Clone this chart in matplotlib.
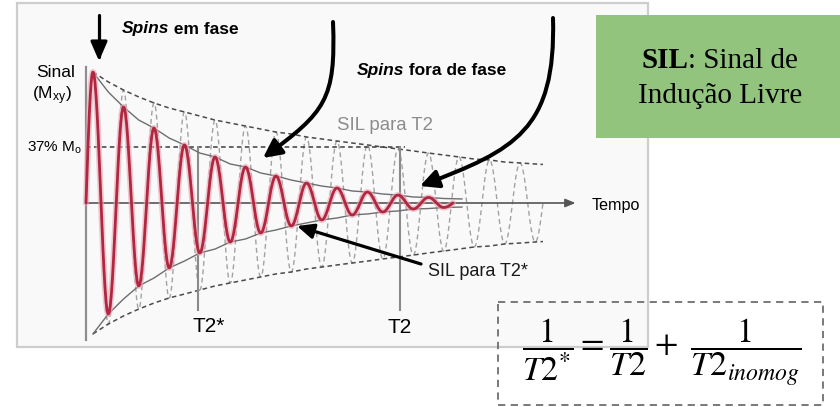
import numpy as np
import matplotlib
matplotlib.use("Agg")
import matplotlib.pyplot as plt
from matplotlib.path import Path
from matplotlib.patches import FancyArrowPatch, Rectangle
from matplotlib.transforms import Affine2D

plt.rcParams["font.family"] = ["Liberation Sans", "DejaVu Sans"]
plt.rcParams["mathtext.fontset"] = "custom"
plt.rcParams["mathtext.rm"] = "Liberation Sans"
plt.rcParams["mathtext.it"] = "Liberation Sans:italic"
plt.rcParams["mathtext.bf"] = "Liberation Sans:bold"

# ---- values (time in units of T2*, signal in units of M0) ----
T2_STAR = 1.0
T2 = 2.8
LEVEL_37 = 0.37

# times of the successive maxima / minima of the oscillation
t_ext = [0.062, 0.199, 0.335, 0.471, 0.607, 0.743, 0.879, 1.016, 1.152, 1.288,
         1.424, 1.560, 1.696, 1.833, 1.969, 2.105, 2.241, 2.377, 2.513, 2.650,
         2.786, 2.922, 3.058, 3.194, 3.330, 3.467, 3.603, 3.739, 3.875, 4.011]

# FID amplitude at each extremum (T2* decay)
fid_amp = [0.873, 0.740, 0.640, 0.553, 0.500, 0.433, 0.387, 0.333, 0.307, 0.260,
           0.240, 0.200, 0.180, 0.153, 0.133, 0.113, 0.100, 0.080, 0.073, 0.060,
           0.053, 0.040, 0.037, 0.030]
fid_end_t = 3.277
fid_env_end = (3.357, 0.027)

# amplitude at each extremum for pure T2 decay
t2_amp = [0.873, 0.807, 0.753, 0.707, 0.667, 0.633, 0.607, 0.580, 0.553, 0.533,
          0.513, 0.493, 0.473, 0.460, 0.440, 0.427, 0.413, 0.400, 0.387, 0.373,
          0.360, 0.347, 0.333, 0.320, 0.307, 0.293, 0.287, 0.273, 0.267, 0.260]
t2_end_t = 4.08
t2_env_end = (4.08, 0.257)

time_axis_end = 4.37
marker_bottom = -0.71

# ---- figure / coordinate frames ----
W, H = 840, 407
fig = plt.figure(figsize=(W / 100, H / 100), dpi=100)
ax = fig.add_axes([0, 0, 1, 1])
ax.set_axis_off()
# time origin 86 px from the left, zero signal 203 px from the top
X0, Y0, SX, SY = 86, 203, 112, 150
ax.set_xlim(-X0 / SX, (W - X0) / SX)
ax.set_ylim((Y0 - H) / SY, Y0 / SY)

# layout frame in pixels, y pointing down
pxT = Affine2D().scale(1 / W, -1 / H).translate(0, 1) + fig.transFigure


def wave(t_pts, s_pts, n=30):
    """Smooth oscillation passing through successive extrema."""
    ts, ss = [], []
    for (t0, s0), (t1, s1) in zip(zip(t_pts[:-1], s_pts[:-1]), zip(t_pts[1:], s_pts[1:])):
        u = np.linspace(0, 1, n)
        if s0 == 0:
            shape = np.sin(np.pi / 2 * u)
        elif s1 == 0:
            shape = 1 - np.cos(np.pi / 2 * u)
        else:
            shape = (1 - np.cos(np.pi * u)) / 2
        ts.append(t0 + (t1 - t0) * u)
        ss.append(s0 + (s1 - s0) * shape)
    return np.concatenate(ts), np.concatenate(ss)


def signed(amps):
    return [a if i % 2 == 0 else -a for i, a in enumerate(amps)]


# background panel
ax.add_patch(Rectangle((17, 3), 631, 344, transform=pxT, fc="#f9f9f9",
                       ec="#cdcdcd", lw=1.6, zorder=0))

# T2 oscillation (dashed, light)
n_fid = len(fid_amp)
tw, sw = wave([0] + t_ext + [t2_end_t], [0] + signed(t2_amp) + [0])
ax.plot(tw, sw, color="#a2a2a2", lw=1.0, dashes=(3.5, 2.5), zorder=2)

# T2 envelope (dashed, dark)
te = t_ext + [t2_env_end[0]]
ae = np.array(t2_amp + [t2_env_end[1]])
for sgn in (1, -1):
    ax.plot(te, sgn * ae, color="#4a4a4a", lw=1.1, dashes=(3, 2.2), zorder=3)

# 37 % level
ax.plot([0, 2.85], [LEVEL_37, LEVEL_37], color="#3c3c3c", lw=1.1,
        dashes=(3, 2.2), zorder=3)

# T2* envelope (solid)
tf = t_ext[:n_fid] + [fid_env_end[0]]
af = np.array(fid_amp + [fid_env_end[1]])
for sgn in (1, -1):
    ax.plot(tf, sgn * af, color="#6e6e6e", lw=1.0, zorder=4)

# axes
ax.plot([0, 0], [0.907, -0.913], color="#8e8e8e", lw=1.6, zorder=3)
ax.annotate("", xy=(time_axis_end, 0), xytext=(0, 0),
            arrowprops=dict(arrowstyle="-|>,head_length=0.6,head_width=0.25",
                            color="#555555", lw=1.2, mutation_scale=10,
                            shrinkA=0, shrinkB=0), zorder=3)

# T2* and T2 markers
for tm in (T2_STAR, T2):
    ax.plot([tm, tm], [LEVEL_37, marker_bottom], color="#8a8a8a", lw=1.5, zorder=3)

# FID (T2*)
tr, sr = wave([0] + t_ext[:n_fid] + [fid_end_t], [0] + signed(fid_amp) + [0])
ax.plot(tr, sr, color="#eaa6b7", lw=4.4, alpha=0.6, zorder=5,
        solid_capstyle="round")
ax.plot(tr, sr, color="#b1273f", lw=2.0, zorder=6, solid_capstyle="round")

# ---- arrows ----
def arrow(verts, lw, hl, hw):
    codes = [Path.MOVETO] + [Path.CURVE4] * (len(verts) - 1) if len(verts) == 4 \
        else [Path.MOVETO, Path.LINETO]
    p = FancyArrowPatch(path=Path(verts, codes), transform=pxT,
                        arrowstyle=f"-|>,head_length={hl},head_width={hw}",
                        mutation_scale=10, lw=lw, color="black",
                        shrinkA=0, shrinkB=0, zorder=8)
    ax.add_patch(p)


arrow([(99, 15), (99, 61)], 2.3, 1.15, 0.5)
arrow([(333, 22), (336, 100), (325, 112), (263, 158)], 2.9, 1.1, 0.55)
arrow([(553, 18), (556, 130), (515, 150), (420, 186)], 2.9, 1.1, 0.55)
arrow([(421, 264), (297, 226)], 2.3, 1.0, 0.45)

# ---- text ----
renderer = fig.canvas.get_renderer()


def rich(x, y, parts, size, family=None, ha="left", color="black"):
    arts = []
    for s, weight, style in parts:
        kw = dict(fontsize=size, fontweight=weight, fontstyle=style,
                  va="baseline", ha="left", color=color, transform=pxT, zorder=9)
        if family:
            kw["family"] = family
        arts.append(ax.text(0, y, s, **kw))
    widths = [a.get_window_extent(renderer).width * W / fig.bbox.width for a in arts]
    start = x - sum(widths) / 2 if ha == "center" else x
    for a, w in zip(arts, widths):
        a.set_x(start)
        start += w


rich(122, 33.5, [("Spins", "bold", "italic"), (" em fase", "bold", "normal")], 12.5)
rich(357, 75, [("Spins", "bold", "italic"), (" fora de fase", "bold", "normal")], 12.5)

ax.text(56, 77, "Sinal", transform=pxT, fontsize=12.5, ha="center", va="baseline")
ax.text(52, 99, r"(M$_{\mathrm{xy}}$)", transform=pxT, fontsize=12.5,
        ha="center", va="baseline")
ax.text(82, 152, r"37% M$_{\mathrm{o}}$", transform=pxT, fontsize=11,
        ha="right", va="baseline")
ax.text(337, 130, "SIL para T2", transform=pxT, fontsize=13.4, color="#8c8c8c",
        ha="left", va="baseline")
ax.text(592, 210, "Tempo", transform=pxT, fontsize=11.6, ha="left", va="baseline")
ax.text(428, 276, "SIL para T2*", transform=pxT, fontsize=13, color="#1a1a1a",
        ha="left", va="baseline")
ax.text(209, 332, "T2*", transform=pxT, fontsize=15, ha="center", va="baseline")
ax.text(400, 333, "T2", transform=pxT, fontsize=15, ha="center", va="baseline")

# definition box
ax.add_patch(Rectangle((596, 15), 250, 123, transform=pxT, fc="#93c47d",
                       ec="none", zorder=7))
rich(720, 68, [("SIL", "bold", "normal"), (": Sinal de", "normal", "normal")], 21,
     family="Liberation Serif", ha="center")
rich(720, 103, [("Indução Livre", "normal", "normal")], 21,
     family="Liberation Serif", ha="center")

# relation box
ax.add_patch(Rectangle((498, 302), 325, 103, transform=pxT, fill=False,
                       ec="#6e6e6e", lw=1.3, ls=(0, (4, 3)), zorder=7))
ax.text(662, 352, r"$\dfrac{1}{T2^{*}}=\dfrac{1}{T2}+\ \dfrac{1}{T2_{inomog}}$",
        transform=pxT, math_fontfamily="stix", fontsize=24.5, ha="center",
        va="center", zorder=9)

fig.savefig("out.png", dpi=100)
